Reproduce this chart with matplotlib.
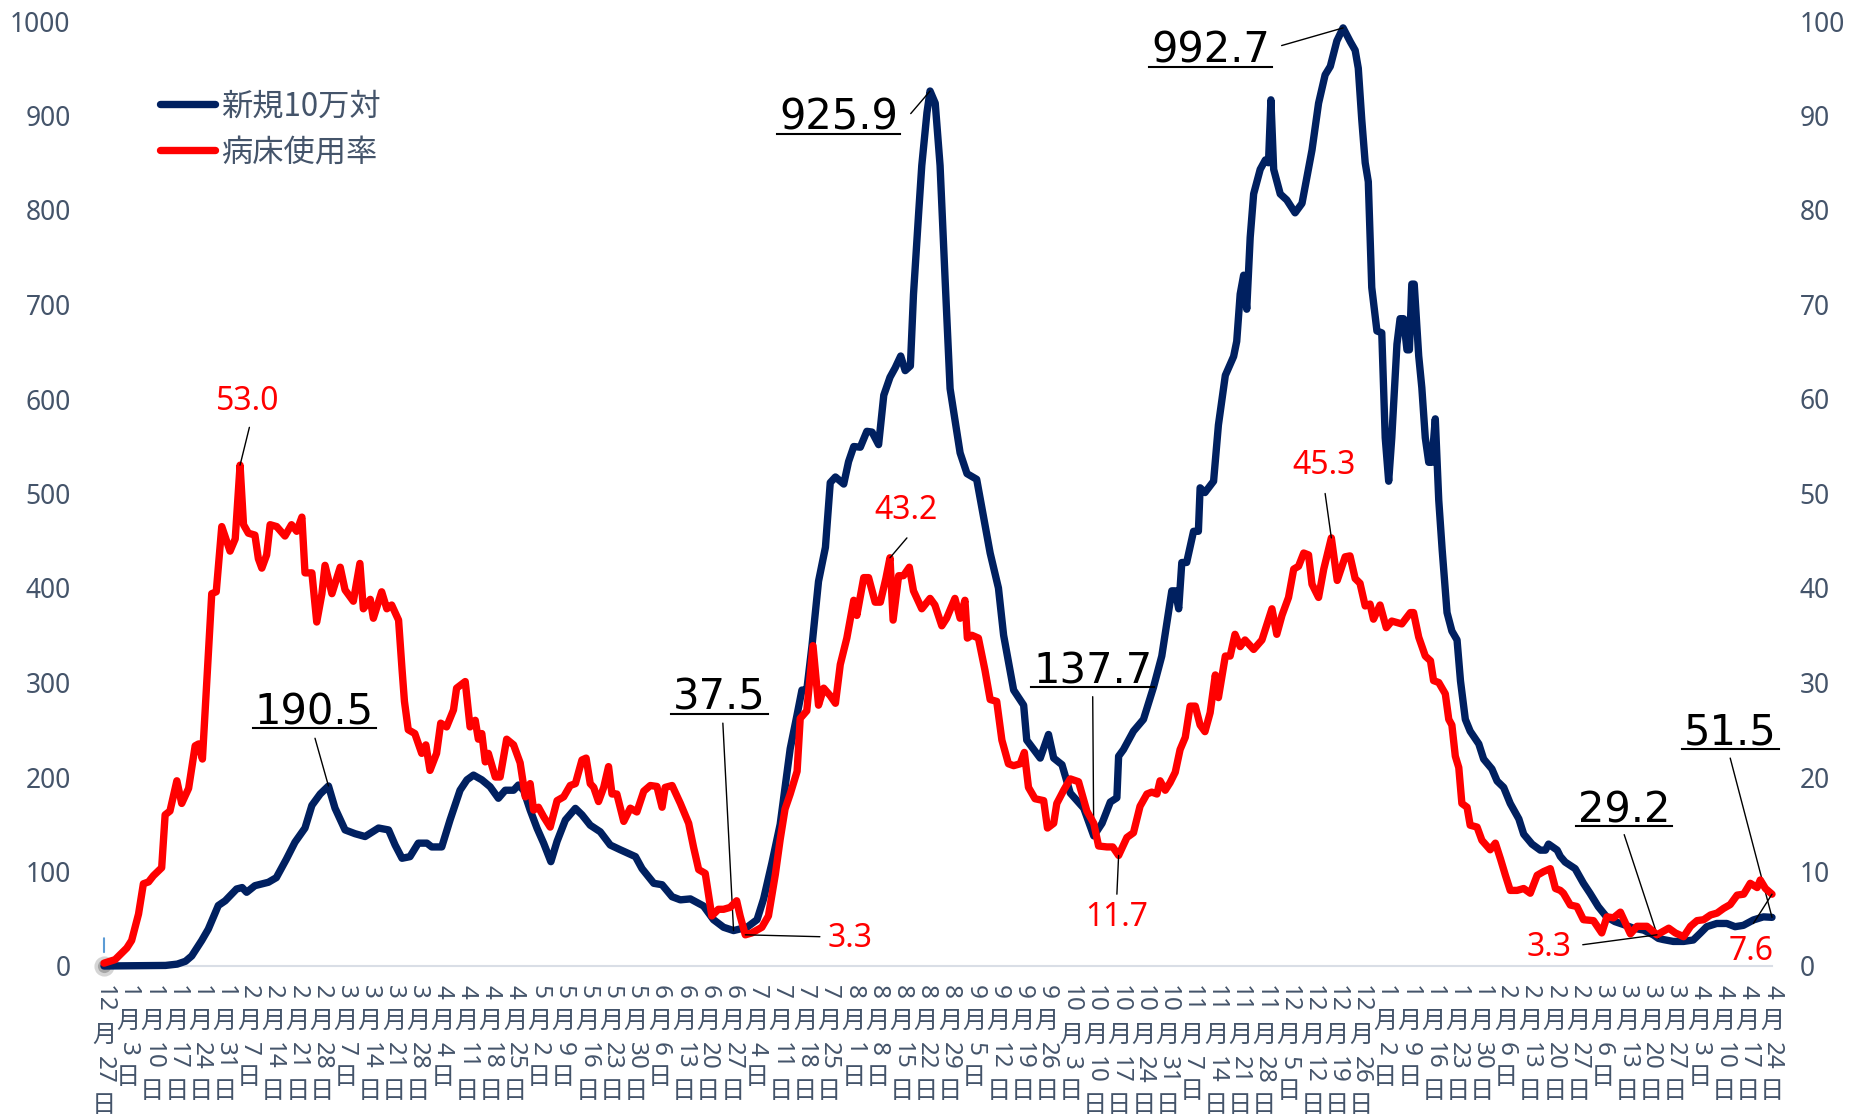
import re
import matplotlib
matplotlib.use("Agg")
import matplotlib.pyplot as plt
import matplotlib.transforms as mtransforms
from matplotlib.lines import Line2D

# ---------------- data ----------------
# day offsets from 2020-12-27
blue_days = [0, 7.5, 17.8, 21.2, 23.6, 25.4, 28.3, 30.2, 33.1, 35.1, 38.4, 40.0, 41.3, 43.7, 47.6, 49.9, 52.8, 55.3, 58.2, 60.2,
             62.6, 65.0, 66.9, 69.8, 72.7, 75.6, 79.5, 82.4, 84.3, 86.3, 88.6, 91.0, 93.5, 94.9, 97.8, 100.2, 103.1, 105.1, 107.0, 109.4,
             111.8, 114.2, 116.2, 118.6, 120.0, 121.5, 123.4, 125.4, 127.3, 129.4, 131.2, 133.6, 136.5, 138.4, 140.8, 143.7, 146.6, 149.5, 153.9, 155.8,
             159.2, 161.6, 164.5, 166.9, 169.8, 173.6, 176.5, 179.4, 182.3, 186.2, 189.1, 191.0, 193.4, 195.8, 198.7, 200.7, 202.1, 203.5, 205.0, 206.9,
             208.9, 210.3, 211.8, 214.2, 215.6, 217.1, 219.0, 220.9, 222.4, 224.3, 225.8, 227.6, 229.1, 230.7, 232.0, 233.5, 234.4, 235.9, 236.8, 238.3,
             239.2, 240.7, 242.1, 243.6, 245.0, 247.9, 249.9, 252.7, 253.8, 256.6, 259.0, 260.5, 263.4, 266.3, 267.2, 271.1, 273.5, 275.0, 277.4, 279.8,
             283.7, 286.6, 289.0, 291.4, 293.3, 293.8, 295.2, 298.1, 301.0, 303.9, 306.3, 307.8, 309.2, 310.2, 311.2, 312.1, 313.5, 315.5, 316.9, 317.4,
             318.8, 321.3, 322.7, 324.7, 327.1, 328.0, 329.0, 330.0, 330.9, 331.9, 332.9, 334.8, 336.3, 337.2, 337.9, 338.7, 340.6, 342.5, 344.9, 346.9,
             348.3, 349.8, 351.7, 353.6, 355.1, 357.0, 358.8, 360.9, 362.3, 363.2, 364.2, 365.2, 366.1, 367.1, 368.6, 370.0, 371.0, 372.0, 372.9, 374.4,
             375.3, 376.3, 377.3, 378.0, 378.7, 379.4, 380.7, 381.6, 382.6, 383.6, 384.5, 385.5, 386.5, 387.5, 388.9, 390.3, 391.8, 392.8, 394.2, 395.6,
             398.1, 399.5, 401.9, 403.4, 405.3, 407.2, 409.7, 411.1, 413.5, 415.9, 417.4, 418.3, 420.8, 421.7, 423.1, 426.0, 428.4, 430.3, 432.7, 435.1,
             437.5, 439.9, 442.9, 445.8, 448.6, 450.1, 451.5, 454.4, 457.4, 460.2, 462.2, 464.1, 467.0, 469.9, 472.3, 474.7, 477.6, 480.5, 483]
blue_vals = [0, 0.3, 0.6, 2, 5, 10.6, 27, 39, 64, 69, 81.5, 83, 78, 85, 88.6, 93.5, 113, 131, 146, 170,
             182, 190.5, 167, 144, 140, 137, 146, 144, 128, 114, 115.7, 130, 130, 126, 126, 154.5, 186, 197, 202, 197,
             189.7, 177.5, 186, 186, 191.5, 186, 165, 145.7, 130, 110.4, 132, 154.5, 166.8, 160, 149, 142, 128, 123, 115.7, 103,
             87.5, 86, 73.3, 70, 71, 63.5, 49, 41, 37.5, 41, 49, 71, 109, 150, 230, 266, 292, 292, 338.6, 407,
             443, 511.5, 517.5, 510, 533.7, 549.7, 549, 565.8, 565, 551.7, 604, 623, 633, 645.5, 630, 635, 710.5, 797, 847, 903,
             925.9, 913, 847, 723, 611, 543, 521, 515, 493, 437, 400, 350, 292, 276, 239, 220, 245, 220, 213, 183,
             167, 137.7, 151, 173.5, 178, 222, 229, 248.5, 261, 295, 328, 364, 397, 397, 378, 427, 427, 460, 460, 506,
             501, 513, 572.5, 625, 645, 661, 711, 731, 695, 771, 817, 843, 853, 850, 916.6, 843, 817, 810.6, 797, 807,
             834, 863.5, 913, 943, 952, 979, 992.7, 978, 969, 950, 896, 850, 830, 718, 672, 670, 559, 513, 559, 658,
             685, 685, 652, 652, 721.6, 721.6, 645.5, 612, 559, 533, 533, 579, 493, 440, 374, 354.5, 345, 301.5, 261, 248.5,
             235, 219, 208.5, 195.7, 189, 172, 155.6, 139.5, 129, 122.6, 122.6, 129, 122.6, 116, 110, 103, 87.5, 77, 62.8, 52,
             47, 44, 40, 38, 33, 29.2, 28, 26, 26, 27.5, 34.6, 41.6, 45, 45, 41.6, 43, 48.7, 52, 51.5]

red_days = [0, 3.2, 6.6, 8.0, 10.0, 11.4, 12.9, 14.3, 16.7, 17.7, 19.1, 21.1, 22.5, 24.5, 26.4, 27.4, 28.5, 31.2, 32.5, 34.1,
            36.5, 38.0, 39.4, 40.4, 41.8, 43.7, 44.7, 45.7, 47.1, 48.1, 50.0, 52.4, 54.3, 55.8, 57.3, 58.2, 60.2, 61.6, 63.1, 64.0,
            66.0, 68.4, 69.8, 72.2, 74.1, 75.1, 77.1, 78.0, 80.4, 81.9, 83.3, 85.3, 86.3, 87.0, 88.1, 90.0, 92.0, 93.2, 94.4, 96.3,
            97.5, 99.2, 101.2, 102.1, 104.6, 106.0, 107.5, 108.4, 109.4, 110.4, 111.3, 113.3, 114.7, 116.6, 118.6, 120.5, 122.0, 123.4, 124.4, 125.8,
            127.3, 129.2, 131.2, 133.1, 135.0, 136.5, 138.4, 139.6, 140.8, 141.8, 143.2, 144.7, 146.1, 147.1, 148.5, 150.5, 152.4, 154.3, 156.3, 158.2,
            160.1, 161.6, 162.5, 164.5, 166.9, 169.3, 170.7, 172.2, 174.1, 176.0, 177.9, 179.4, 181.3, 183.2, 184.2, 185.7, 187.6, 190.5, 192.4, 194.4,
            195.8, 197.2, 198.7, 200.7, 201.6, 203.5, 205.3, 206.9, 208.4, 210.3, 211.8, 213.2, 215.1, 217.1, 218.0, 220.0, 221.4, 223.3, 224.8, 226.4,
            227.6, 228.5, 230.1, 231.5, 233.2, 234.4, 236.8, 239.2, 240.6, 242.6, 244.0, 246.4, 247.9, 249.3, 250.0, 251.3, 253.2, 255.1, 256.6, 258.5,
            260.0, 261.9, 263.4, 265.3, 266.5, 267.7, 269.6, 272.1, 273.2, 275.0, 275.9, 277.9, 279.8, 282.2, 284.6, 286.6, 288.0, 290.4, 292.1, 293.8,
            296.2, 298.1, 300.0, 302.0, 303.4, 304.9, 305.8, 307.3, 308.7, 310.2, 311.6, 313.1, 314.5, 316.0, 317.4, 318.8, 320.3, 321.8, 322.7, 324.7,
            326.1, 327.5, 329.0, 330.4, 332.9, 335.3, 336.7, 338.2, 339.6, 341.1, 343.0, 344.5, 345.9, 347.4, 348.8, 349.8, 351.7, 353.2, 355.4, 357.1,
            359.4, 360.8, 362.3, 363.7, 365.2, 366.6, 367.6, 369.5, 371.3, 372.9, 375.8, 378.3, 379.2, 380.7, 382.6, 384.1, 385.0, 386.5, 388.4, 389.4,
            390.3, 391.3, 392.3, 393.2, 394.7, 395.6, 397.6, 399.0, 401.4, 402.9, 404.4, 405.8, 407.2, 409.2, 411.1, 413.0, 415.0, 416.9, 418.8, 420.3,
            421.7, 422.6, 424.6, 426.5, 428.4, 431.3, 433.7, 435.2, 437.1, 439.1, 442.0, 443.9, 446.8, 449.7, 453.1, 455.0, 457.4, 459.4, 461.3, 463.2,
            465.2, 467.1, 469.0, 470.9, 472.9, 474.8, 476.7, 478.7, 479.6, 481.1, 483]
red_vals = [0.3, 0.67, 1.9, 2.7, 5.5, 8.7, 8.9, 9.55, 10.4, 16, 16.4, 19.6, 17.2, 18.8, 23.3, 23.5, 21.9, 39.4, 39.6, 46.5,
            43.9, 45.2, 53.0, 46.7, 45.8, 45.6, 43.1, 42.1, 43.5, 46.7, 46.5, 45.5, 46.7, 46.0, 47.5, 41.6, 41.6, 36.4, 39.4, 42.4,
            39.4, 42.2, 39.8, 38.6, 42.6, 37.8, 38.8, 36.8, 39.6, 37.8, 38.2, 36.6, 31.4, 28, 25, 24.6, 22.5, 23.4, 20.7, 22.5,
            25.7, 25.3, 27.1, 29.4, 30.1, 25.3, 26, 24, 24.6, 21.6, 22.5, 20, 20, 24, 23.4, 21.5, 17.9, 19.3, 16.5, 16.8,
            15.8, 14.7, 17.5, 17.9, 19.1, 19.3, 21.8, 22, 19.3, 18.9, 17.4, 18.9, 21.1, 18.2, 18.2, 15.3, 16.7, 16.3, 18.5, 19.1,
            19, 16.8, 18.9, 19.1, 17.2, 15.1, 12.6, 10.2, 9.8, 5.3, 6, 6, 6.2, 6.9, 5.3, 3.3, 3.5, 4.1, 5.3, 9.7,
            13.4, 16.6, 18.2, 20.6, 26.2, 27, 33.9, 27.6, 29.4, 28.6, 27.8, 31.9, 34.7, 38.7, 37.1, 41.1, 41.1, 38.5, 38.5, 41,
            43.2, 36.6, 41.3, 41.3, 42.2, 39.7, 37.8, 38.9, 38.2, 36.0, 36.8, 38.9, 36.8, 38.7, 34.7, 35, 34.7, 31.3, 28.2, 28,
            23.9, 21.4, 21.2, 21.4, 22.6, 18.9, 17.7, 17.5, 14.6, 15.1, 17.2, 18.6, 19.8, 19.5, 16.4, 15.1, 12.7, 12.6, 12.6, 11.7,
            13.6, 14.1, 16.9, 18.2, 18.4, 18.2, 19.6, 18.6, 19.4, 20.5, 22.9, 24.2, 27.5, 27.5, 25.5, 24.8, 26.8, 30.8, 28.4, 32.8,
            32.8, 35.1, 33.8, 34.5, 33.5, 34.5, 36.1, 37.8, 35.1, 37.1, 39.0, 42, 42.3, 43.7, 43.5, 40.4, 39.0, 42, 45.3, 40.8,
            43.3, 43.4, 41, 40.5, 38.1, 38.3, 36.7, 38.2, 35.8, 36.5, 36.2, 37.4, 37.4, 34.8, 32.8, 32.3, 30.2, 30, 28.8, 26.1,
            25.5, 22.2, 21, 17.2, 16.8, 14.9, 14.7, 13.3, 12.3, 13, 11.3, 9.6, 8, 8, 8.2, 7.7, 9.6, 10, 10.3, 8.2,
            8, 7.7, 6.45, 6.3, 4.9, 4.8, 3.5, 5.2, 5.1, 5.7, 3.4, 4.2, 4.2, 3.3, 4.0, 3.5, 3.1, 4.2, 4.8, 4.9,
            5.4, 5.6, 6.1, 6.5, 7.5, 7.6, 8.75, 8.3, 9.1, 8.2, 7.6]

series_names = ["新規10万対", "病床使用率"]

tick_labels = ["12月27日", "1月3日", "1月10日", "1月17日", "1月24日", "1月31日", "2月7日", "2月14日", "2月21日", "2月28日",
               "3月7日", "3月14日", "3月21日", "3月28日", "4月4日", "4月11日", "4月18日", "4月25日", "5月2日", "5月9日",
               "5月16日", "5月23日", "5月30日", "6月6日", "6月13日", "6月20日", "6月27日", "7月4日", "7月11日", "7月18日",
               "7月25日", "8月1日", "8月8日", "8月15日", "8月22日", "8月29日", "9月5日", "9月12日", "9月19日", "9月26日",
               "10月3日", "10月10日", "10月17日", "10月24日", "10月31日", "11月7日", "11月14日", "11月21日", "11月28日", "12月5日",
               "12月12日", "12月19日", "12月26日", "1月2日", "1月9日", "1月16日", "1月23日", "1月30日", "2月6日", "2月13日",
               "2月20日", "2月27日", "3月6日", "3月13日", "3月20日", "3月27日", "4月3日", "4月10日", "4月17日", "4月24日"]
tick_days = [7 * i for i in range(len(tick_labels))]

# labelled points (day of the point)
blue_label_days = [65.0, 182.3, 239.2, 286.6, 358.8, 450.1, 483]
red_label_days = [39.4, 227.6, 185.7, 293.8, 355.4, 449.7, 483]

# ---------------- layout / style ----------------
blue_label_pos = [(60.9, 256), (178.2, 271), (212.7, 885), (286.3, 299), (320.5, 956), (440.2, 152), (470.9, 234)]
blue_label_anchor = [(61.1, 241), (179.2, 257), (233.6, 902), (286.3, 285), (341.0, 974), (440.2, 139), (470.9, 220)]
red_label_pos = [(41.7, 59.75), (232.2, 48.25), (216.1, 2.9), (293.1, 5.1), (353.3, 53.0), (418.3, 2.0), (477.1, 1.5)]
red_label_anchor = [(42.1, 57.0), (232.5, 45.3), (207.3, 3.1), (293.3, 7.6), (353.6, 50.0), (428.2, 2.25), (477.6, 4.5)]

BLUE = "#002060"
RED = "#FF0000"
TXT = "#44546A"
W, H, DPI = 1852, 1117, 100

plt.rcParams["font.family"] = ["Noto Sans CJK JP", "DejaVu Sans"]

fig = plt.figure(figsize=(W / DPI, H / DPI), dpi=DPI)
fig.patch.set_facecolor("white")
ax = fig.add_axes([104 / W, (H - 966) / H, (1772 - 104) / W, (966 - 21) / H])
ax2 = ax.twinx()

LW = 5.3
ax.plot([blue_days[0]], [blue_vals[0]], "o", ms=12, mfc="#A6A6A6", mec="#D5D5D5", mew=2.5,
        clip_on=False, zorder=2)
ax.annotate("", xy=(blue_days[0], blue_vals[0]), xytext=(0, 20), textcoords="offset points",
            arrowprops=dict(arrowstyle="-", color="#5B9BD5", lw=1.5, shrinkA=0, shrinkB=10),
            annotation_clip=False)
ax.plot(blue_days, blue_vals, color=BLUE, lw=LW, solid_joinstyle="round", solid_capstyle="round",
        clip_on=False, zorder=3)
ax2.plot(red_days, red_vals, color=RED, lw=LW, solid_joinstyle="round", solid_capstyle="round",
         clip_on=False, zorder=3)

ax.set_xlim(0, 483)
ax.set_ylim(0, 1000)
ax2.set_ylim(0, 100)
ax.set_yticks(range(0, 1001, 100))
ax2.set_yticks(range(0, 101, 10))
ax.set_xticks([])
ax2.set_xticks([])
ax.tick_params(axis="y", length=0, pad=24, labelsize=19, labelcolor=TXT, labelfontfamily="Noto Sans")
ax2.tick_params(axis="y", length=0, pad=20, labelsize=19, labelcolor=TXT, labelfontfamily="Noto Sans")

for a in (ax, ax2):
    for s in ("left", "right", "top"):
        a.spines[s].set_visible(False)
ax2.spines["bottom"].set_visible(False)
ax.spines["bottom"].set_color("#D9DEE6")
ax.spines["bottom"].set_linewidth(1.5)
ax.patch.set_alpha(0)

# stacked vertical x tick labels
fs_x = 17.5
dig_adv = 0.58 * fs_x
cjk_adv = 1.05 * fs_x
gap = 6.0
base = mtransforms.blended_transform_factory(ax.transData, ax.transAxes)
for d, lab in zip(tick_days, tick_labels):
    off = 14.0
    for i, p in enumerate(re.findall(r"\d+|\D", lab)):
        if i:
            off += gap
        tr = base + mtransforms.ScaledTranslation(0, -off / 72, fig.dpi_scale_trans)
        if p.isdigit():
            ax.text(d, 0, p, transform=tr, rotation=-90, ha="center", va="top", fontsize=fs_x,
                    color=TXT, family="Noto Sans", clip_on=False)
            off += len(p) * dig_adv
        else:
            ax.text(d, 0, p, transform=tr, ha="center", va="top", fontsize=fs_x,
                    color=TXT, clip_on=False)
            off += cjk_adv

# legend
handles = [Line2D([], [], color=BLUE, lw=LW, solid_capstyle="round"),
           Line2D([], [], color=RED, lw=LW, solid_capstyle="round")]
leg = ax2.legend(handles, series_names, loc="upper left", bbox_to_anchor=(160 / W, 1 - 90 / H),
                 bbox_transform=fig.transFigure, frameon=False, fontsize=22.5, handlelength=1.75,
                 handletextpad=0.2, labelspacing=0.45, borderpad=0, borderaxespad=0)
for t in leg.get_texts():
    t.set_color(TXT)

# blue labels
blue_texts = []
for d, pos, anc in zip(blue_label_days, blue_label_pos, blue_label_anchor):
    v = blue_vals[blue_days.index(d)]
    t = ax.text(pos[0], pos[1], f"{v:.1f}", ha="center", va="baseline", fontsize=30,
                family="DejaVu Sans", color="black", zorder=6, clip_on=False)
    blue_texts.append(t)
    ax.annotate("", xy=(d, v), xytext=anc,
                arrowprops=dict(arrowstyle="-", lw=1.0, color="black", shrinkA=0, shrinkB=0),
                annotation_clip=False)

# red labels
for d, pos, anc in zip(red_label_days, red_label_pos, red_label_anchor):
    v = red_vals[red_days.index(d)]
    ax2.text(pos[0], pos[1], f"{v:.1f}", ha="center", va="center", fontsize=23,
             family="Noto Sans", color=RED, zorder=6, clip_on=False)
    ax2.annotate("", xy=(d, v), xytext=anc,
                 arrowprops=dict(arrowstyle="-", lw=1.0, color="black", shrinkA=0, shrinkB=0),
                 annotation_clip=False)

# underline the blue labels
fig.canvas.draw()
rend = fig.canvas.get_renderer()
inv = fig.transFigure.inverted()
for t in blue_texts:
    bb = t.get_window_extent(rend)
    x0, x1 = bb.x0 - 2, bb.x1 + 2
    yb = ax.transData.transform(t.get_position())[1] - 4
    (fx0, fy), (fx1, _) = inv.transform([(x0, yb), (x1, yb)])
    fig.add_artist(Line2D([fx0, fx1], [fy, fy], color="black", lw=1.5, transform=fig.transFigure))

fig.savefig("out.png", dpi=DPI, facecolor="white")
